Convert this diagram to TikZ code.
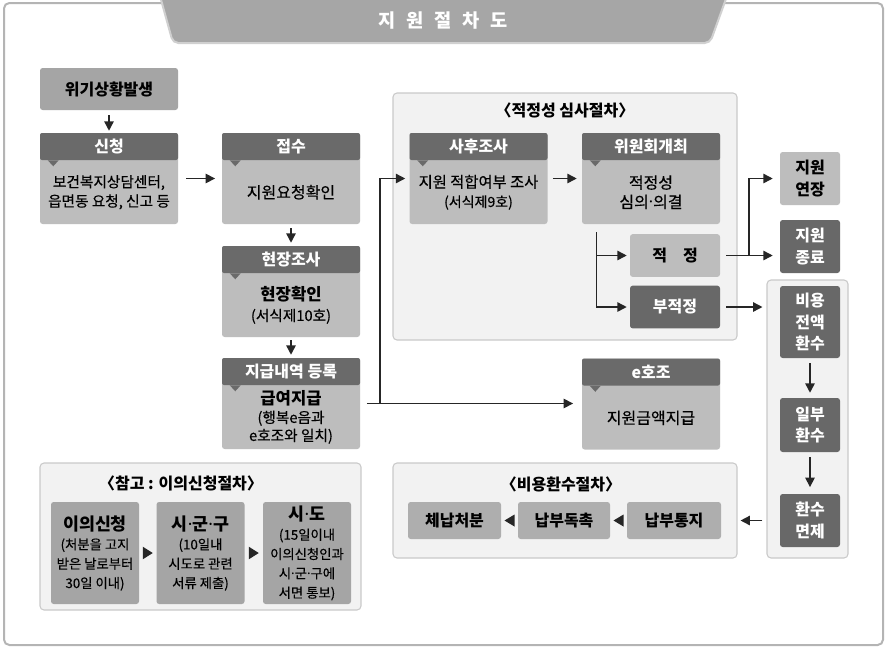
\documentclass[tikz,border=0pt]{standalone}
\usepackage{fontspec}
\setmainfont{Noto Sans CJK KR}[UprightFeatures={FakeBold=0.4}]
\newfontfamily\dotfont{Noto Sans}
\usepackage{xcolor}
\usetikzlibrary{arrows.meta,calc,positioning}
\definecolor{framegray}{HTML}{B4B4B4}
\definecolor{tabgray}{HTML}{A6A6A6}
\definecolor{tabline}{HTML}{D0D0D0}
\definecolor{groupfill}{HTML}{F2F2F2}
\definecolor{groupline}{HTML}{CACACA}
\definecolor{headgray}{HTML}{6A6A6A}
\definecolor{cardgray}{HTML}{BDBDBD}
\definecolor{midgray}{HTML}{A5A5A5}
\definecolor{boxdark}{HTML}{686868}
\definecolor{arrowgray}{HTML}{262626}

\begin{document}
\begin{tikzpicture}[x=0.75pt,y=-0.75pt,
            frame/.style={draw=framegray, line width=1.5pt, fill=white, rounded corners=4pt},
            group/.style={draw=groupline, line width=0.8pt, fill=groupfill, rounded corners=3pt, inner sep=0pt},
            card/.style={fill=cardgray, rounded corners=2pt, inner sep=0pt, minimum width=103.5pt, minimum height=68.25pt},
            cardhead/.style={fill=headgray, text=white, rounded corners=1.5pt, inner sep=0pt, minimum width=103.5pt, minimum height=20.25pt, font=\fontsize{12}{14}\selectfont\bfseries},
            cardtxt/.style={align=center, inner sep=0pt, font=\fontsize{12}{14.5}\selectfont},
            lightbox/.style={fill=cardgray, rounded corners=2pt, inner sep=0pt, align=center, font=\fontsize{12}{16}\selectfont\bfseries},
            darkbox/.style={fill=boxdark, text=white, rounded corners=2pt, inner sep=0pt, align=center, font=\fontsize{12}{16}\selectfont\bfseries},
            notebox/.style={fill=midgray, rounded corners=2pt, inner sep=0pt, align=center, minimum width=66pt, minimum height=76.5pt, font=\fontsize{10}{14.5}\selectfont},
            grouptitle/.style={font=\fontsize{12}{14}\selectfont\bfseries},
            arr/.style={draw=arrowgray, line width=1.1pt, -{Triangle[length=7pt,width=7pt]}}]
				\useasboundingbox (0,0) rectangle (889,651);
				\draw[frame] (4,3) rectangle (883,645);
				\draw[fill=tabgray, draw=tabline, line width=1.5pt, rounded corners=4pt] (160,-4) -- (173,43) -- (710,43) -- (727,-4);
				\node[text=white, font=\fontsize{14}{16}\selectfont\bfseries] (title) at (443,21) {지\hspace{8pt}원\hspace{8pt}절\hspace{8pt}차\hspace{8pt}도};

				% groups
				\node[group, minimum width=258pt, minimum height=185.25pt] (review) at (565,216.5) {};
				\node[grouptitle] (review-t) at (565,110) {〈적정성 심사절차〉};
				\node[group, minimum width=60.75pt, minimum height=208.5pt] (recov) at (807.5,419) {};
				\node[group, minimum width=258pt, minimum height=71.25pt] (refund) at (565,510.5) {};
				\node[grouptitle] (refund-t) at (561,484) {〈비용환수절차〉};
				\node[group, minimum width=240.75pt, minimum height=110.25pt] (note) at (200.5,536.5) {};
				\node[grouptitle] (note-t) at (181,483) {〈참고 : 이의신청절차〉};

				% left column
				\node[lightbox, fill=midgray, minimum width=103.5pt, minimum height=31.5pt] (crisis) at (109,89) {위기상황발생};

				\node[card] (apply) at (109,178.5) {};
				\node[cardhead, anchor=north] (apply-h) at (apply.north) {신청};
				\fill[headgray] ([xshift=6pt]apply-h.south west) -- ++(8.25pt,0) -- ++(-4.1pt,-4.5pt) -- cycle;
				\node[cardtxt, font=\fontsize{11}{14.5}\selectfont] at ($(apply-h.south)!.5!(apply.south)$) {보건복지상담센터,\\읍면동 요청, 신고 등};

				\node[card] (recv) at (291,178.5) {};
				\node[cardhead, anchor=north] (recv-h) at (recv.north) {접수};
				\fill[headgray] ([xshift=6pt]recv-h.south west) -- ++(8.25pt,0) -- ++(-4.1pt,-4.5pt) -- cycle;
				\node[cardtxt] at ($(recv-h.south)!.5!(recv.south)$) {지원요청확인};

				\node[card] (site) at (291,291.5) {};
				\node[cardhead, anchor=north] (site-h) at (site.north) {현장조사};
				\fill[headgray] ([xshift=6pt]site-h.south west) -- ++(8.25pt,0) -- ++(-4.1pt,-4.5pt) -- cycle;
				\node[cardtxt, font=\fontsize{11}{15}\selectfont] at ($(site-h.south)!.5!(site.south)$) {{\fontsize{12.5}{15}\selectfont\bfseries 현장확인}\\(서식제10호)};

				\node[card] (pay) at (291,403.5) {};
				\node[cardhead, anchor=north] (pay-h) at (pay.north) {지급내역 등록};
				\fill[headgray] ([xshift=6pt]pay-h.south west) -- ++(8.25pt,0) -- ++(-4.1pt,-4.5pt) -- cycle;
				\node[cardtxt, font=\fontsize{11}{13.5}\selectfont] at ($(pay-h.south)!.5!(pay.south)$) {{\fontsize{12.5}{14}\selectfont\bfseries 급여지급}\\(행복e음과\\e호조와 일치)};

				% review
				\node[card] (post) at (478.5,178.5) {};
				\node[cardhead, anchor=north] (post-h) at (post.north) {사후조사};
				\fill[headgray] ([xshift=6pt]post-h.south west) -- ++(8.25pt,0) -- ++(-4.1pt,-4.5pt) -- cycle;
				\node[cardtxt, font=\fontsize{11.5}{14.5}\selectfont] at ($(post-h.south)!.5!(post.south)$) {지원 적합여부 조사\\{\fontsize{10.5}{14}\selectfont (서식제9호)}};

				\node[card] (cmte) at (651,178.5) {};
				\node[cardhead, anchor=north] (cmte-h) at (cmte.north) {위원회개최};
				\fill[headgray] ([xshift=6pt]cmte-h.south west) -- ++(8.25pt,0) -- ++(-4.1pt,-4.5pt) -- cycle;
				\node[cardtxt] at ($(cmte-h.south)!.5!(cmte.south)$) {적정성\\심의{\dotfont·}의결};

				\node[lightbox, minimum width=67.5pt, minimum height=32pt] (ok) at (675,255.5) {적\hspace{12pt}정};
				\node[darkbox, minimum width=67.5pt, minimum height=32pt] (nok) at (675,307) {부적정};

				\node[card] (ehojo) at (651,404) {};
				\node[cardhead, anchor=north] (ehojo-h) at (ehojo.north) {e호조};
				\fill[headgray] ([xshift=6pt]ehojo-h.south west) -- ++(8.25pt,0) -- ++(-4.1pt,-4.5pt) -- cycle;
				\node[cardtxt] at ($(ehojo-h.south)!.5!(ehojo.south)$) {지원금액지급};

				% right column
				\node[lightbox, minimum width=45pt, minimum height=39.75pt] (ext) at (810,178.5) {지원\\연장};
				\node[darkbox, minimum width=45pt, minimum height=39.75pt] (end) at (810,246.5) {지원\\종료};
				\node[darkbox, minimum width=45pt, minimum height=54pt] (full) at (810,322) {비용\\전액\\환수};
				\node[darkbox, minimum width=45pt, minimum height=40.5pt] (part) at (810,425) {일부\\환수};
				\node[darkbox, minimum width=45pt, minimum height=39.75pt] (exempt) at (810,520.5) {환수\\면제};

				% refund steps
				\node[lightbox, fill=cardgray!92!black, minimum width=69.75pt, minimum height=27.75pt] (dispose) at (454.5,520.5) {체납처분};
				\node[lightbox, fill=cardgray!92!black, minimum width=69pt, minimum height=27.75pt] (urge) at (564,520.5) {납부독촉};
				\node[lightbox, fill=cardgray!92!black, minimum width=70.5pt, minimum height=27.75pt] (notice) at (674,520.5) {납부통지};

				% objection steps
				\node[notebox] (obj) at (95,553) {{\fontsize{13}{15}\selectfont\bfseries 이의신청}\\(처분을 고지\\받은 날로부터\\30일 이내)};
				\node[notebox] (sgg) at (200.5,553) {{\fontsize{13}{15}\selectfont\bfseries 시{\dotfont·}군{\dotfont·}구}\\(10일내\\시도로 관련\\서류 제출)};
				\node[notebox] (sido) at (307,553) {{\fontsize{13}{15}\selectfont\bfseries 시{\dotfont·}도}\\(15일이내\\이의신청인과\\시{\dotfont·}군{\dotfont·}구에\\서면 통보)};

				% connectors
				\draw[arr, shorten <=3.75pt, shorten >=1.5pt] (crisis) -- (apply);
				\draw[arr, shorten <=6pt, shorten >=5pt] (apply) -- (recv);
				\draw[arr, shorten <=3pt, shorten >=2.25pt] (recv) -- (site);
				\draw[arr, shorten <=2.25pt, shorten >=2.25pt] (site) -- (pay);
				\coordinate (jn) at (380,403.5);
				\draw[arr, shorten <=5pt, shorten >=6.5pt] (pay.east) -- (pay.east -| ehojo.west);
				\draw[arr, shorten >=3pt] (jn) |- (post.west);
				\draw[arr, shorten <=3.75pt, shorten >=3.75pt] (post) -- (cmte);
				\coordinate (cb) at ([xshift=11.25pt,yshift=-6pt]cmte.south west);
				\draw[arr, shorten >=2.25pt] (cb) |- (ok.west);
				\draw[arr, shorten >=2.25pt] (cb) |- (nok.west);
				\coordinate (ob) at (749,255.5);
				\draw[arr, shorten <=4.5pt, shorten >=5.25pt] (ok.east) -- (ok.east -| end.west);
				\draw[arr, shorten >=5.25pt] (ob) |- (ext.west);
				\draw[arr, shorten <=4.5pt, shorten >=3pt] (nok.east) -- (nok.east -| recov.west);
				\draw[arr, shorten <=3.75pt, shorten >=3.75pt] (full) -- (part);
				\draw[arr, shorten <=3.75pt, shorten >=5pt] (part) -- (exempt);
				\draw[arr, shorten <=3pt, shorten >=2.25pt] (recov.west |- exempt.west) -- (refund.east |- exempt.west);
				\fill[arrowgray] ($(notice.west)!.5!(urge.east)$) ++(3.75pt,4.5pt) -- ++(-7.5pt,-4.5pt) -- ++(7.5pt,-4.5pt) -- cycle;
				\fill[arrowgray] ($(urge.west)!.5!(dispose.east)$) ++(3.75pt,4.5pt) -- ++(-7.5pt,-4.5pt) -- ++(7.5pt,-4.5pt) -- cycle;
				\fill[arrowgray] ($(obj.east)!.5!(sgg.west)$) ++(-3.75pt,4.75pt) -- ++(7.5pt,-4.75pt) -- ++(-7.5pt,-4.75pt) -- cycle;
				\fill[arrowgray] ($(sgg.east)!.5!(sido.west)$) ++(-3.75pt,4.75pt) -- ++(7.5pt,-4.75pt) -- ++(-7.5pt,-4.75pt) -- cycle;
 		\end{tikzpicture}
\end{document}
